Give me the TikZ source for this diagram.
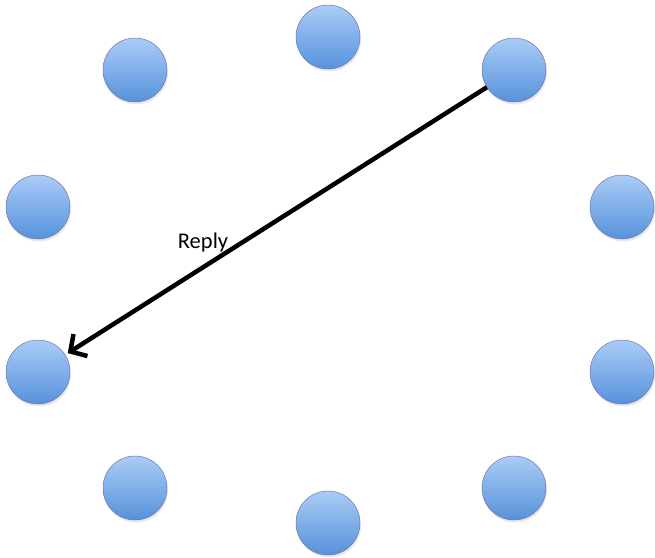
\documentclass[tikz,border=0pt]{standalone}
\usepackage{fontspec}
\setmainfont{Carlito}
\usetikzlibrary{arrows.meta,shadows}
\begin{document}
\begin{tikzpicture}[x=1pt,y=-1pt,
  ball/.style={circle, minimum size=64pt, inner sep=0pt, draw=blue!45!black!55!white, line width=0.5pt,
    top color={rgb,255:red,170;green,204;blue,247}, bottom color={rgb,255:red,86;green,146;blue,218},
    drop shadow={opacity=0.18, shadow xshift=1pt, shadow yshift=-2.5pt}},
  arr/.style={line width=4.5pt, -{Straight Barb[length=12pt,width=26pt,line width=4.5pt]}, shorten >=3pt, shorten <=0pt},
  lbl/.style={font=\fontsize{22.5}{26}\selectfont, inner sep=0pt}]
\useasboundingbox (0,0) rectangle (655,557);
\node[ball] (c1) at (135,70) {};
\node[ball] (c2) at (328,37) {};
\node[ball] (c3) at (514,70) {};
\node[ball] (c4) at (38,207) {};
\node[ball] (c5) at (622,207) {};
\node[ball] (c6) at (38,372) {};
\node[ball] (c7) at (622,372) {};
\node[ball] (c8) at (135,488) {};
\node[ball] (c9) at (328,523) {};
\node[ball] (c10) at (514,488) {};
\draw[arr] (c3) -- (c6);
\node[lbl] (reply) at (203,242) {Reply};
\end{tikzpicture}
\end{document}
